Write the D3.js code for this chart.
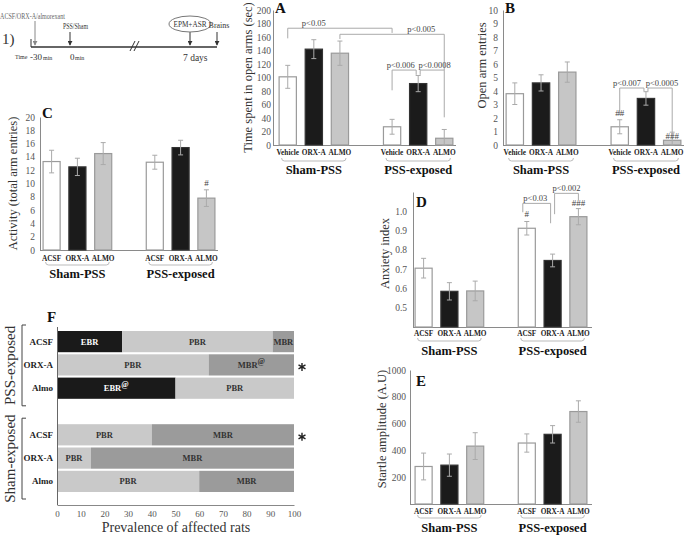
<!DOCTYPE html>
<html><head><meta charset="utf-8">
<script src="https://cdn.jsdelivr.net/npm/d3@7"></script>
<style>body{margin:0;background:#fff}svg{display:block}svg text{font-family:'Liberation Serif','DejaVu Serif',serif !important}</style>
</head><body><svg id="c" width="685" height="535" font-family="Liberation Serif, DejaVu Serif, serif"></svg>
<script>
// ---------- data ----------
const groups = ["Sham-PSS", "PSS-exposed"];
const treatVeh = ["Vehicle", "ORX-A", "ALMO"];
const treatAcsf = ["ACSF", "ORX-A", "ALMO"];

const timeOpen = [101, 142, 136, 27, 91, 10];
const timeOpenErr = [17, 14, 18, 11, 12, 13];
const timeTicks = [0, 20, 40, 60, 80, 100, 120, 140, 160, 180, 200];

const entries = [3.8, 4.6, 5.4, 1.35, 3.45, 0.35];
const entriesErr = [0.8, 0.6, 0.75, 0.52, 0.5, 0.6];
const entriesTicks = [0, 1, 2, 3, 4, 5, 6, 7, 8, 9, 10];

const activity = [13.3, 12.5, 14.5, 13.2, 15.4, 7.8];
const activityErr = [1.7, 1.3, 1.65, 1.05, 1.1, 1.25];
const activityTicks = [0, 2, 4, 6, 8, 10, 12, 14, 16, 18, 20];

const anxiety = [0.705, 0.585, 0.587, 0.912, 0.745, 0.972];
const anxietyErr = [0.051, 0.045, 0.051, 0.035, 0.033, 0.042];
const anxietyTicks = [0.5, 0.6, 0.7, 0.8, 0.9, 1.0];

const startle = [280, 290, 432, 455, 520, 690];
const startleErr = [100, 83, 100, 68, 65, 80];
const startleTicks = [200, 400, 600, 800, 1000];

// panel F (percent of rats)
const fRows = ["ACSF", "ORX-A", "Almo"];
const fGroups = ["PSS-exposed", "Sham-exposed"];
const fKeys = ["EBR", "PBR", "MBR"];
const pssEBR = [27.5, 0, 50];
const pssPBR = [63.5, 64, 50];
const pssMBR = [9, 36, 0];
const shamEBR = [0, 0, 0];
const shamPBR = [40, 14.3, 60];
const shamMBR = [60, 85.7, 40];
const pssSup = [["", "", ""], ["", "", "@"], ["@", "", ""]];
const shamSup = [["", "", ""], ["", "", ""], ["", "", ""]];
const fStars = [[false, true, false], [true, false, false]];
const fTicks = [0, 10, 20, 30, 40, 50, 60, 70, 80, 90, 100];

// ---------- drawing ----------
const svg = d3.select("#c");
const FONT = "Liberation Serif, DejaVu Serif, serif";
const fills = ["#ffffff", "#1b1b1b", "#c6c6c6"];
const strokes = ["#9a9a9a", "#333", "#9a9a9a"];
const slotOf = i => (i < 3 ? i : i + 1);

function barPanel(o) {
  const g = svg.append("g");
  const y = d3.scaleLinear().domain(o.dom).range([o.bottom, o.top]);
  const x = d3.scaleBand().domain(d3.range(7)).range([o.x0, o.x1]).paddingInner(0.3).paddingOuter(0.1);
  const cx = i => x(slotOf(i)) + x.bandwidth() / 2;

  const ax = g.append("g").attr("transform", `translate(${o.ax},0)`)
    .call(d3.axisLeft(y).tickValues(o.ticks).tickFormat(o.fmt || d3.format("d")).tickSize(0).tickPadding(o.pad));
  ax.attr("font-family", FONT);
  ax.select(".domain").attr("stroke", "#8a8a8a");
  ax.selectAll(".tick text").attr("font-size", 9.5).attr("fill", "#555");
  g.append("line").attr("x1", o.ax).attr("x2", o.axEnd).attr("y1", o.bottom + 0.5).attr("y2", o.bottom + 0.5)
    .attr("stroke", "#8a8a8a");

  g.selectAll("rect.bar").data(o.vals).join("rect")
    .attr("x", (d, i) => x(slotOf(i)) + 0.5)
    .attr("width", x.bandwidth() - 1)
    .attr("y", d => y(d))
    .attr("height", d => o.bottom - y(d))
    .attr("fill", (d, i) => fills[i % 3])
    .attr("stroke", (d, i) => strokes[i % 3])
    .attr("stroke-width", 1.2);

  const eg = g.append("g").attr("stroke", "#aaa").attr("stroke-width", 1).attr("fill", "none");
  o.vals.forEach((v, i) => {
    const lo = Math.max(o.dom[0], v - o.errs[i]), hi = v + o.errs[i];
    const c = cx(i);
    eg.append("line").attr("x1", c).attr("x2", c).attr("y1", y(lo)).attr("y2", y(hi));
    eg.append("line").attr("x1", c - 2.5).attr("x2", c + 2.5).attr("y1", y(hi)).attr("y2", y(hi));
    eg.append("line").attr("x1", c - 2.5).attr("x2", c + 2.5).attr("y1", y(lo)).attr("y2", y(lo));
  });

  o.vals.forEach((v, i) => {
    g.append("text").attr("x", cx(i)).attr("y", o.catY).attr("text-anchor", "middle")
      .attr("font-size", 7.3).attr("font-weight", "bold").attr("fill", "#222").text(o.cats[i % 3]);
  });
  groups.forEach((gr, k) => {
    const a = x(slotOf(k * 3)) + 3, b = x(slotOf(k * 3 + 2)) + x.bandwidth() - 3;
    g.append("path").attr("d", `M${a},${o.brY - 3}Q${a},${o.brY} ${a + 3},${o.brY}H${b - 3}Q${b},${o.brY} ${b},${o.brY - 3}`)
      .attr("fill", "none").attr("stroke", "#bbb").attr("stroke-width", 1);
    g.append("text").attr("x", (a + b) / 2).attr("y", o.grY).attr("text-anchor", "middle")
      .attr("font-size", 12.5).attr("font-weight", "bold").attr("fill", "#111").text(gr);
  });

  const ym = (o.bottom + o.top) / 2 + (o.lyOff || 0);
  g.append("text").attr("transform", `translate(${o.lx},${ym}) rotate(-90)`).attr("text-anchor", "middle")
    .attr("font-size", 12.5).attr("fill", "#333").text(o.ylab);
  g.append("text").attr("x", o.letter[1]).attr("y", o.letter[2]).attr("font-size", 15).attr("font-weight", "bold")
    .attr("fill", "#111").text(o.letter[0]);

  (o.sig || []).forEach(s => {
    const xa = cx(s.a) + (s.ao || 0), xb = cx(s.b) + (s.bo || 0);
    g.append("path").attr("d", `M${xa},${y(s.la)}V${y(s.top)}H${xb}V${y(s.lb)}`)
      .attr("fill", "none").attr("stroke", "#aaa").attr("stroke-width", 1);
    g.append("text").attr("x", xa + (xb - xa) * s.t).attr("y", y(s.top) - 2.5).attr("text-anchor", "middle")
      .attr("font-size", 8.5).attr("fill", "#444").text(s.text);
  });
  (o.marks || []).forEach(m => {
    g.append("text").attr("x", cx(m.i)).attr("y", y(m.v)).attr("text-anchor", "middle")
      .attr("font-size", 9).attr("fill", "#444").text(m.text);
  });
}

barPanel({
  dom: [0, 200], bottom: 145, top: 10, x0: 276, x1: 456, ax: 273, axEnd: 456, pad: 2,
  vals: timeOpen, errs: timeOpenErr, ticks: timeTicks, cats: treatVeh,
  catY: 155, brY: 161, grY: 174, lx: 252, ylab: "Time spent in open arms (sec)", letter: ["A", 275, 13],
  sig: [
    { text: "p<0.05", a: 0, b: 3, top: 173, la: 158, lb: 166, t: 0.25 },
    { text: "p<0.005", a: 2, b: 5, top: 164, la: 157, lb: 111, t: 0.78 },
    { text: "p<0.006", a: 3, b: 4, bo: -2, top: 111, la: 81, lb: 104, t: 0.36 },
    { text: "p<0.0008", a: 4, ao: 2, b: 5, top: 111, la: 104, lb: 41, t: 0.6 }
  ]
});
barPanel({
  dom: [0, 10], bottom: 145, top: 10, x0: 503, x1: 684, ax: 503, axEnd: 684, pad: 5,
  vals: entries, errs: entriesErr, ticks: entriesTicks, cats: treatVeh,
  catY: 155, brY: 161, grY: 174, lx: 486, ylab: "Open arm entries", letter: ["B", 505, 13], lyOff: -12,
  sig: [
    { text: "p<0.007", a: 3, b: 4, bo: -2, top: 4.22, la: 2.2, lb: 4.0, t: 0.3 },
    { text: "p<0.0005", a: 4, ao: 2, b: 5, top: 4.22, la: 4.0, lb: 0.96, t: 0.58 }
  ],
  marks: [{ i: 3, v: 2.15, text: "##" }, { i: 5, v: 0.45, text: "###" }]
});
barPanel({
  dom: [0, 20], bottom: 250, top: 117, x0: 40, x1: 218, ax: 40, axEnd: 218, pad: 5,
  vals: activity, errs: activityErr, ticks: activityTicks, cats: treatAcsf,
  catY: 261, brY: 265, grY: 278, lx: 17, ylab: "Activity (total arm entries)", letter: ["C", 42, 118],
  marks: [{ i: 5, v: 9.6, text: "#" }]
});
barPanel({
  dom: [0.4, 1.1], bottom: 327, top: 192, x0: 412, x1: 590, ax: 413, axEnd: 592, pad: 6, fmt: d3.format(".1f"),
  vals: anxiety, errs: anxietyErr, ticks: anxietyTicks, cats: treatAcsf,
  catY: 336, brY: 341, grY: 355, lx: 389, ylab: "Anxiety index", letter: ["D", 416, 207], lyOff: -6,
  sig: [
    { text: "p<0.03", a: 3, ao: -4, b: 4, bo: -2, top: 1.041, la: 0.995, lb: 0.938, t: 0.45 },
    { text: "p<0.002", a: 4, ao: 2, b: 5, top: 1.093, la: 0.985, lb: 1.057, t: 0.5 }
  ],
  marks: [{ i: 3, v: 0.969, text: "#" }, { i: 5, v: 1.026, text: "###" }]
});
barPanel({
  dom: [0, 1000], bottom: 504, top: 370, x0: 412, x1: 590, ax: 410, axEnd: 592, pad: 4,
  vals: startle, errs: startleErr, ticks: startleTicks, cats: treatAcsf,
  catY: 514, brY: 518, grY: 532, lx: 386, ylab: "Startle amplitude (A.U)", letter: ["E", 416, 386], lyOff: -8
});

// ---------- panel F ----------
(function () {
  const g = svg.append("g");
  const x = d3.scaleLinear().domain([0, 100]).range([57, 294]);
  const y = d3.scaleBand().domain(d3.range(7)).range([331, 492]).paddingInner(0.09).paddingOuter(0);
  const colors = { EBR: "#1a1a1a", PBR: "#c9c9c9", MBR: "#9b9b9b" };
  const txtCol = { EBR: "#fff", PBR: "#333", MBR: "#333" };
  const sets = [
    { e: pssEBR, p: pssPBR, m: pssMBR, sup: pssSup, off: 0 },
    { e: shamEBR, p: shamPBR, m: shamMBR, sup: shamSup, off: 4 }
  ];
  const star = d3.symbol(d3.symbolAsterisk, 45);
  sets.forEach((s, k) => {
    const table = fRows.map((r, i) => ({ row: i, EBR: s.e[i], PBR: s.p[i], MBR: s.m[i] }));
    const stack = d3.stack().keys(fKeys)(table);
    stack.forEach(layer => {
      layer.forEach((d, i) => {
        if (d[1] - d[0] <= 0) return;
        const yy = y(i + s.off);
        g.append("rect").attr("x", x(d[0])).attr("width", x(d[1]) - x(d[0]))
          .attr("y", yy).attr("height", y.bandwidth()).attr("fill", colors[layer.key]);
        const t = g.append("text").attr("x", (x(d[0]) + x(d[1])) / 2).attr("y", yy + y.bandwidth() / 2 + 3)
          .attr("text-anchor", "middle").attr("font-size", 8.5).attr("font-weight", "bold")
          .attr("fill", txtCol[layer.key]).text(layer.key);
        const sp = s.sup[i][fKeys.indexOf(layer.key)];
        if (sp) t.append("tspan").attr("dy", -4).attr("font-size", 8).text(sp);
      });
    });
    fRows.forEach((r, i) => {
      const yc = y(i + s.off) + y.bandwidth() / 2;
      g.append("text").attr("x", 53).attr("y", yc + 3).attr("text-anchor", "end").attr("font-size", 9)
        .attr("font-weight", "bold").attr("fill", "#222").text(r);
      if (fStars[k][i]) g.append("path").attr("d", star).attr("transform", `translate(302,${yc + 2})`)
        .attr("fill", "none").attr("stroke", "#222").attr("stroke-width", 1.4);
    });
    const top = y(s.off) - 6, bot = y(s.off + 2) + y.bandwidth() + 7;
    g.append("path").attr("d", `M26,${top}H22V${bot}H26`).attr("fill", "none").attr("stroke", "#444").attr("stroke-width", 1);
    g.append("text").attr("transform", `translate(15,${(top + bot) / 2}) rotate(-90)`).attr("text-anchor", "middle")
      .attr("font-size", 15).attr("fill", "#333").text(fGroups[k]);
  });
  g.append("line").attr("x1", 57.5).attr("x2", 57.5).attr("y1", 327).attr("y2", 505).attr("stroke", "#666");
  const ax = g.append("g").attr("transform", "translate(0,505)")
    .call(d3.axisBottom(x).tickValues(fTicks).tickSize(0).tickPadding(6));
  ax.attr("font-family", FONT);
  ax.select(".domain").attr("stroke", "#888");
  ax.selectAll(".tick text").attr("font-size", 9).attr("fill", "#555");
  g.append("text").attr("x", 176).attr("y", 532).attr("text-anchor", "middle").attr("font-size", 14)
    .attr("fill", "#333").text("Prevalence of affected rats");
  g.append("text").attr("x", 47).attr("y", 322).attr("font-size", 15).attr("font-weight", "bold").attr("fill", "#111").text("F");
})();

// ---------- timeline ----------
(function () {
  const g = svg.append("g");
  const defs = svg.append("defs");
  defs.append("marker").attr("id", "ah").attr("viewBox", "0 0 6 6").attr("refX", 5).attr("refY", 3)
    .attr("markerWidth", 5).attr("markerHeight", 5).attr("orient", "auto")
    .append("path").attr("d", "M0,0L6,3L0,6z").attr("fill", "#333");
  defs.append("marker").attr("id", "ahg").attr("viewBox", "0 0 6 6").attr("refX", 5).attr("refY", 3)
    .attr("markerWidth", 5).attr("markerHeight", 5).attr("orient", "auto")
    .append("path").attr("d", "M0,0L6,3L0,6z").attr("fill", "#888");
  g.append("text").attr("x", 0).attr("y", 19).attr("font-size", 8).attr("fill", "#666")
    .attr("textLength", 65).attr("lengthAdjust", "spacingAndGlyphs").text("ACSF/ORX-A/almorexant");
  g.append("text").attr("x", 2).attr("y", 44).attr("font-size", 15).attr("fill", "#333").text("1)");
  g.append("line").attr("x1", 31).attr("x2", 217).attr("y1", 47).attr("y2", 47).attr("stroke", "#333").attr("stroke-width", 1.3);
  g.append("line").attr("x1", 31).attr("x2", 31).attr("y1", 39).attr("y2", 47).attr("stroke", "#333");
  g.append("line").attr("x1", 35).attr("x2", 35).attr("y1", 21).attr("y2", 45).attr("stroke", "#888").attr("marker-end", "url(#ahg)");
  [70, 190, 217].forEach(xx => g.append("line").attr("x1", xx).attr("x2", xx).attr("y1", 32).attr("y2", 45)
    .attr("stroke", "#333").attr("marker-end", "url(#ah)"));
  g.append("text").attr("x", 63).attr("y", 29).attr("font-size", 8).attr("fill", "#333")
    .attr("textLength", 25).attr("lengthAdjust", "spacingAndGlyphs").text("PSS/Sham");
  g.append("path").attr("d", "M130,51L135,41M134,51L139,41").attr("stroke", "#333").attr("fill", "none");
  g.append("ellipse").attr("cx", 190).attr("cy", 24).attr("rx", 21).attr("ry", 8).attr("fill", "none").attr("stroke", "#777");
  g.append("text").attr("x", 190).attr("y", 27).attr("text-anchor", "middle").attr("font-size", 8).attr("fill", "#333")
    .attr("textLength", 33).attr("lengthAdjust", "spacingAndGlyphs").text("EPM+ASR");
  g.append("text").attr("x", 219).attr("y", 28).attr("text-anchor", "middle").attr("font-size", 8).attr("fill", "#333").text("Brains");
  g.append("text").attr("x", 15).attr("y", 59).attr("font-size", 6).attr("fill", "#333").text("Time");
  g.append("text").attr("x", 30).attr("y", 60).attr("font-size", 9).attr("fill", "#333").text("-30");
  g.append("text").attr("x", 43).attr("y", 60).attr("font-size", 6).attr("fill", "#333").text("min");
  g.append("text").attr("x", 70).attr("y", 60).attr("font-size", 9).attr("fill", "#333").text("0");
  g.append("text").attr("x", 75).attr("y", 60).attr("font-size", 6).attr("fill", "#333").text("min");
  g.append("text").attr("x", 183).attr("y", 61).attr("font-size", 9.5).attr("fill", "#333").text("7 days");
})();
</script></body></html>
